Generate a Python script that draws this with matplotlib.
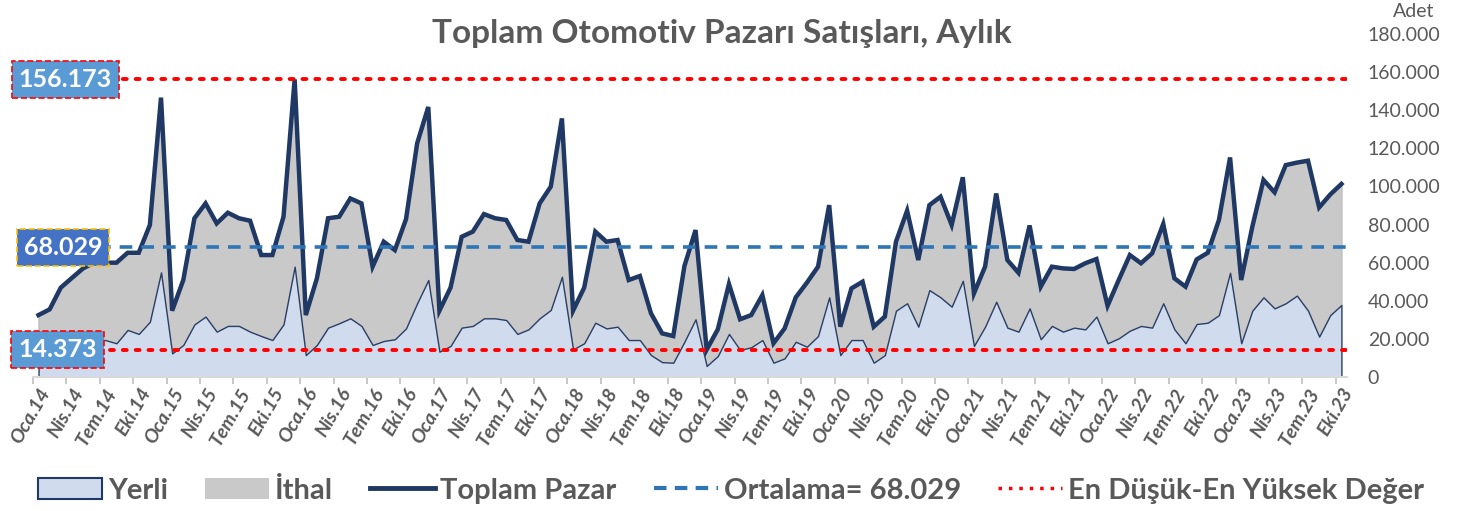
import numpy as np
import matplotlib
matplotlib.use("Agg")
import matplotlib.pyplot as plt
import matplotlib.transforms as mtransforms
from matplotlib.patches import Patch
from matplotlib.lines import Line2D

plt.rcParams['font.family'] = ['Lato', 'DejaVu Sans']

# Monthly sales, Jan 2014 - Oct 2023
toplam = [32500, 35500, 46900, 52000, 57000, 60000, 60000, 60000, 65200, 65200,
          79800, 146600, 34800, 50900, 83300, 91100, 80600, 86200, 83300, 82000,
          64000, 64000, 84100, 156173, 32500, 51800, 83300, 84100, 93700, 91100,
          57900, 71000, 66600, 82800, 122600, 141700, 34800, 46900, 73600, 76300,
          85500, 83300, 82400, 71900, 71000, 91100, 99900, 135700, 34800, 46900,
          76300, 71000, 71900, 50900, 53000, 33400, 22900, 21500, 58200, 77100,
          14373, 25000, 48800, 30300, 32500, 43000, 17700, 25500, 41800, 49500,
          57900, 90200, 26400, 46500, 50000, 26400, 31700, 71000, 87300, 61400,
          90200, 94600, 79800, 104800, 43900, 57900, 96300, 61400, 54700, 79500,
          47400, 57900, 57000, 56700, 59700, 61900, 37400, 50900, 64000, 59700,
          64900, 80300, 51800, 47400, 61700, 65200, 82400, 115200, 50900, 78900,
          103400, 96900, 111200, 112500, 113500, 89000, 95800, 101300]

yerli = [16000, 17000, 19000, 18500, 19500, 19400, 19400, 17700, 24700, 22600,
         29000, 54900, 12400, 16800, 27600, 31700, 23800, 26800, 26800, 23800,
         21500, 19400, 27600, 57900, 11500, 16800, 25900, 28200, 30800, 26800,
         16800, 18900, 19800, 25500, 38700, 50900, 13300, 16300, 25900, 26800,
         30800, 30800, 29900, 22600, 25000, 30800, 35200, 52600, 14500, 17700,
         28500, 25500, 26400, 19400, 19400, 11500, 7800, 7500, 18500, 30300,
         5800, 11000, 22600, 14200, 15600, 19400, 7500, 9800, 18500, 15900,
         21500, 41800, 11500, 19400, 19400, 7500, 11500, 34800, 38700, 26400,
         45600, 41800, 36900, 50500, 16300, 26400, 39500, 25900, 23800, 36000,
         19800, 26800, 23800, 25900, 25000, 31700, 17700, 20300, 24300, 26800,
         25900, 38700, 25000, 17700, 27800, 28500, 32500, 54700, 17700, 34800,
         41800, 36000, 38700, 42700, 34800, 21200, 32500, 37800]

ortalama = 68029
aylar = ['Oca', 'Şub', 'Mar', 'Nis', 'May', 'Haz', 'Tem', 'Ağu', 'Eyl', 'Eki', 'Kas', 'Ara']
start_year = 14

gray_txt = '#595959'
navy = '#1F3864'

def fmt(v):
    return f"{int(round(v)):,}".replace(",", ".")

n = len(toplam)
x = np.arange(n)
toplam = np.array(toplam)
yerli = np.array(yerli)

fig = plt.figure(figsize=(14.71, 5.11), dpi=100)
ax = fig.add_axes([0.0224, 0.2622, 0.8933, 0.6713])

# stacked areas
ax.fill_between(x, 0, yerli, facecolor='#D0DCEE', edgecolor='#2A3F66', lw=1.0, zorder=2)
ax.fill_between(x, yerli, toplam, facecolor='#C9C9C9', edgecolor='#BDBDBD', lw=1.0, zorder=1)
ax.plot(x, toplam, color=navy, lw=3.2, zorder=4, solid_joinstyle='miter')

# reference lines
vmax, vmin = toplam.max(), toplam.min()
ax.axhline(vmax, color='#FF0000', lw=2.8, ls=(0, (1, 2.3)), zorder=5, dash_capstyle='round')
ax.axhline(vmin, color='#FF0000', lw=2.8, ls=(0, (1, 2.3)), zorder=5, dash_capstyle='round')
ax.axhline(ortalama, color='#2E75B6', lw=2.6, ls=(0, (3.5, 2.5)), zorder=5)

ax.set_xlim(-0.5, n - 0.5)
ax.set_ylim(0, 180000)

# value boxes on the left edge
trans = mtransforms.blended_transform_factory(ax.transAxes, ax.transData)
box_kw = dict(transform=trans, ha='center', va='center', fontsize=18, fontweight='bold',
              color='white', zorder=10, clip_on=False)
ax.text(0.0245, vmax, fmt(vmax),
        bbox=dict(boxstyle='square,pad=0.28', fc='#5B9BD5', ec='#FF0000', ls='--', lw=1.2), **box_kw)
ax.text(0.023, ortalama, fmt(ortalama),
        bbox=dict(boxstyle='square,pad=0.28', fc='#4472C4', ec='#FFC000', ls='--', lw=1.2), **box_kw)
ax.text(0.0185, vmin, fmt(vmin),
        bbox=dict(boxstyle='square,pad=0.28', fc='#5B9BD5', ec='#FF0000', ls='--', lw=1.2), **box_kw)

# axes styling
for s in ['top', 'left', 'right']:
    ax.spines[s].set_visible(False)
ax.spines['bottom'].set_color('#D9D9D9')
ax.spines['bottom'].set_linewidth(1.5)
ax.spines['bottom'].set_zorder(6)

lab_pos = x[::3]
lab_txt = [f"{aylar[i % 12]}.{start_year + i // 12}" for i in lab_pos]
ax.set_xticks(lab_pos)
ax.set_xticklabels(lab_txt, rotation=60, ha='right', rotation_mode='anchor',
                   fontsize=14, fontweight='bold', fontstyle='italic', color=gray_txt)
ax.tick_params(axis='x', length=0, pad=6)
ax.set_xticks(np.arange(-0.5, n - 1, 3), minor=True)
ax.tick_params(axis='x', which='minor', length=5, color='#BFBFBF', width=1.2)

ax.yaxis.tick_right()
ax.set_yticks(np.arange(0, 180001, 20000))
ax.set_yticklabels([fmt(v) for v in np.arange(0, 180001, 20000)], fontsize=14, color=gray_txt)
ax.tick_params(axis='y', length=0, pad=15)
for t in ax.get_yticklabels():
    t.set_ha('left')

fig.text(0.491, 0.935, 'Toplam Otomotiv Pazarı Satışları, Aylık', ha='center', va='center',
         fontsize=24, fontweight='bold', color=gray_txt)
fig.text(0.961, 0.978, 'Adet', ha='center', va='center', fontsize=14, color=gray_txt)

handles = [
    Patch(facecolor='#D0DCEE', edgecolor=navy, lw=1.5),
    Patch(facecolor='#C9C9C9', edgecolor='none'),
    Line2D([], [], color=navy, lw=3.5),
    Line2D([], [], color='#2E75B6', lw=3, ls=(0, (3, 2))),
    Line2D([], [], color='#FF0000', lw=2.5, ls=(0, (1, 2))),
]
labels = ['Yerli', 'İthal', 'Toplam Pazar', f'Ortalama= {fmt(ortalama)}', 'En Düşük-En Yüksek Değer']
leg = fig.legend(handles, labels, ncol=5, loc='center', bbox_to_anchor=(0.497, 0.04),
                 frameon=False, handlelength=2.2, handleheight=0.75, handletextpad=0.2,
                 columnspacing=1.27, prop={'size': 21, 'weight': 'bold'})
for t in leg.get_texts():
    t.set_color(gray_txt)

fig.savefig('out.png', dpi=100)
